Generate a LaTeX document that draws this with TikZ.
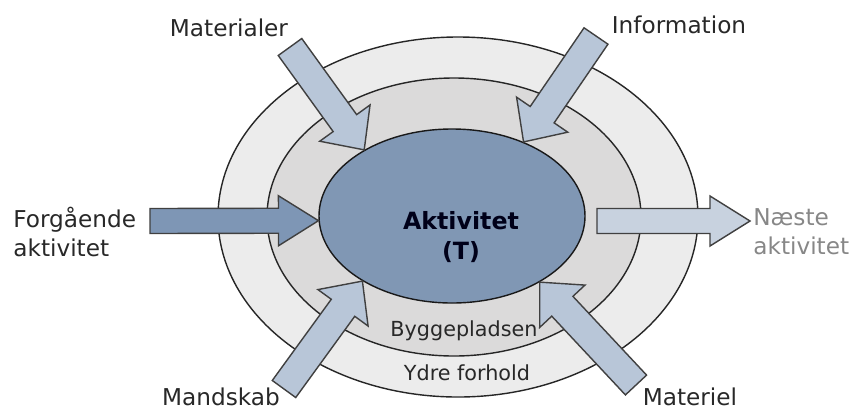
\documentclass[tikz,border=0pt]{standalone}
\usepackage{fontspec}
\setmainfont{DejaVu Sans}
\usetikzlibrary{calc,shapes.geometric}
\definecolor{ringout}{RGB}{236,236,236}
\definecolor{ringmid}{RGB}{219,218,218}
\definecolor{aktblue}{RGB}{128,151,180}
\definecolor{pilfill}{RGB}{184,198,216}
\definecolor{pildark}{RGB}{126,150,181}
\definecolor{pillight}{RGB}{200,210,223}
\definecolor{txtgray}{RGB}{135,135,135}
\definecolor{txtdark}{RGB}{40,40,40}
\tikzset{pil bredde/.store in=\pilb, pil hoved/.store in=\pilh,
  pil laengde/.store in=\pill, pil farve/.store in=\pilf,
  pil bredde=2.9mm, pil hoved=6.2mm, pil laengde=6.6mm, pil farve=pilfill}
\newcommand\blokpil[3][]{%
  \begin{scope}[#1]
    \coordinate (pb) at ($(#3)!\pill!(#2)$);
    \draw[pil,fill=\pilf] ($(#2)!\pilb!90:(#3)$) -- ($(pb)!\pilb!-90:(#2)$) -- ($(pb)!\pilh!-90:(#2)$) -- (#3)
      -- ($(pb)!\pilh!90:(#2)$) -- ($(pb)!\pilb!90:(#2)$) -- ($(#2)!\pilb!-90:(#3)$) -- cycle;
  \end{scope}}
\begin{document}
\begin{tikzpicture}[x=0.2mm, y=-0.2mm,
    ring/.style={ellipse, draw=black!85, line width=0.8pt, inner sep=0},
    pil/.style={draw=black!75, line width=0.8pt, line join=miter},
    etiket/.style={inner sep=0, text=txtdark, align=left, font=\fontsize{13.2}{16.6}\selectfont},
    zone/.style={inner sep=0, text=txtdark, font=\fontsize{11.8}{14}\selectfont}]
  \useasboundingbox (0,0) rectangle (860,410);
  \node[ring, fill=ringout, minimum width=96mm, minimum height=72mm] (ydre) at (458,217) {};
  \node[ring, fill=ringmid, minimum width=74.8mm, minimum height=55.6mm] (plads) at (454,217) {};
  \node[ring, fill=aktblue, draw=black!90, minimum width=53.2mm, minimum height=34.8mm] (akt) at (452,216) {};
  \node[inner sep=0, align=center, text=black!90!blue, font=\bfseries\fontsize{13.5}{17}\selectfont] (akttekst) at (461,237) {Aktivitet\\(T)};
  \node[zone] (bygge) at (464,331) {Byggepladsen};
  \node[zone] (ydretekst) at (467,373) {Ydre forhold};
  \coordinate (materialer-hale) at (290,47);
  \coordinate (information-hale) at (596,36);
  \coordinate (mandskab-hale) at (284,389);
  \coordinate (materiel-hale) at (636,385);
  \coordinate (forg-hale) at (150,221);
  \coordinate (naeste-hale) at (597,221);
  \coordinate (naeste-spids) at (750,221);
  \blokpil{materialer-hale}{akt.143}
  \blokpil{information-hale}{akt.46}
  \blokpil{mandskab-hale}{akt.216}
  \blokpil{materiel-hale}{akt.323}
  \blokpil[pil bredde=2.5mm, pil hoved=5mm, pil laengde=8mm, pil farve=pildark]{forg-hale}{akt.182}
  \blokpil[pil bredde=2.5mm, pil hoved=5mm, pil laengde=8mm, pil farve=pillight]{naeste-hale}{naeste-spids}
  \node[etiket] (materialer) at (229,28) {Materialer};
  \node[etiket] (information) at (679,25) {Information};
  \node[etiket, anchor=west] (forg) at (13,232) {Forgående\\aktivitet};
  \node[etiket, anchor=west, text=txtgray] (naeste) at (753,232) {Næste\\aktivitet};
  \node[etiket] (mandskab) at (221,397) {Mandskab};
  \node[etiket] (materiel) at (690,397) {Materiel};
\end{tikzpicture}
\end{document}
